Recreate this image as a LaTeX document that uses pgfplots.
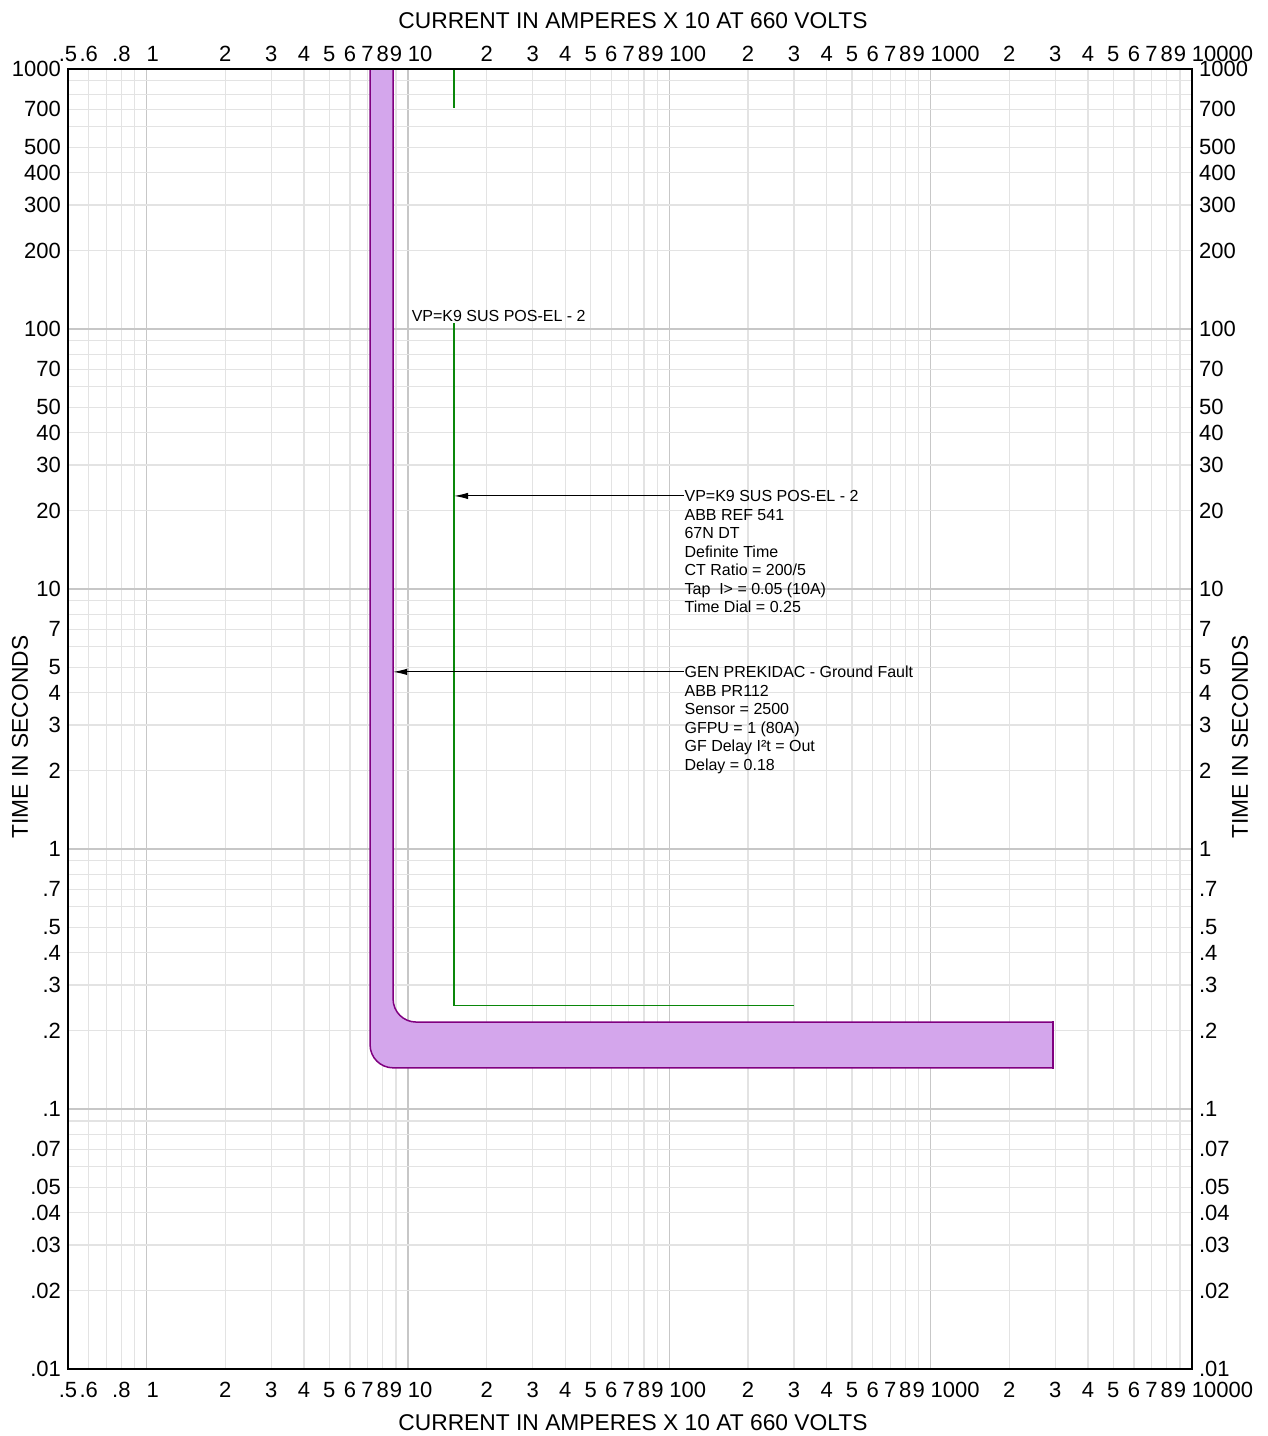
\documentclass[border=0pt]{standalone}
\usepackage{fontspec}
\setmainfont{Liberation Sans}
\usepackage{pgfplots}
\pgfplotsset{compat=1.18}
\usetikzlibrary{arrows.meta}
\definecolor{gfill}{RGB}{212,166,236}
\definecolor{gedge}{RGB}{128,0,128}
\definecolor{ggreen}{RGB}{10,135,10}
\newcommand\annot{\fontsize{8}{9.25}\selectfont}
\newcommand\tl{\fontsize{11}{13}\selectfont}
\newcommand\ttl{\fontsize{11.4}{13}\selectfont}
\begin{document}
\begin{tikzpicture}
% grid + data
\begin{axis}[xmode=log, ymode=log, xmin=0.5, xmax=10000, ymin=0.01, ymax=1000,
  scale only axis, width=562pt, height=650pt, at={(0,0)}, anchor=south west,
  axis line style={draw=none}, tick style={draw=none},
  xtick={1,10,100,1000,10000},
  minor xtick={0.6,0.7,0.8,0.9,2,3,4,5,6,7,8,9,20,30,40,50,60,70,80,90,200,300,400,500,600,700,800,900,2000,3000,4000,5000,6000,7000,8000,9000},
  ytick={0.01,0.1,1,10,100,1000},
  minor ytick={0.02,0.03,0.04,0.05,0.06,0.07,0.08,0.09,0.2,0.3,0.4,0.5,0.6,0.7,0.8,0.9,2,3,4,5,6,7,8,9,20,30,40,50,60,70,80,90,200,300,400,500,600,700,800,900},
  xticklabels={}, yticklabels={},
  grid=both,
  major grid style={draw=black!22, line width=0.6pt},
  minor grid style={draw=black!11, line width=0.6pt}]
% GEN PREKIDAC ground fault band
\addplot[fill=gfill, draw=gedge, line width=0.75pt, rounded corners=11.5pt]
  coordinates {(2940,0.216) (8.77,0.216) (8.77,3000) (7.16,3000) (7.16,0.144) (2940,0.144)};
\addplot[draw=gedge, line width=0.75pt, line cap=rect]
  coordinates {(2940,0.216) (2940,0.144)};
% VP=K9 SUS POS-EL - 2 definite time
\addplot[ggreen, line width=0.8pt] coordinates {(15,1000) (15,707)};
\addplot[ggreen, line width=0.8pt] coordinates {(15,105) (15,0.25) (300,0.25)};
% annotations
\draw[-{Latex[length=7pt,width=3.2pt]}, line width=0.5pt] (axis cs:114,22.8) -- (axis cs:15,22.8);
\draw[-{Latex[length=7pt,width=3.2pt]}, line width=0.5pt] (axis cs:114,4.8) -- (axis cs:8.77,4.8);
\node[anchor=base west, inner sep=0, font=\annot, yshift=-2.9pt] at (axis cs:114,22.8)
  {\begin{tabular}[t]{@{}l@{}}VP=K9 SUS POS-EL - 2\\ ABB REF 541\\ 67N DT\\ Definite Time\\ CT Ratio = 200/5\\ Tap~\ I> = 0.05 (10A)\\ Time Dial = 0.25\end{tabular}};
\node[anchor=base west, inner sep=0, font=\annot, yshift=-2.9pt] at (axis cs:114,4.8)
  {\begin{tabular}[t]{@{}l@{}}GEN PREKIDAC - Ground Fault\\ ABB PR112\\ Sensor = 2500\\ GFPU = 1 (80A)\\ GF Delay I²t = Out\\ Delay = 0.18\end{tabular}};
\node[anchor=west, inner sep=0, font=\annot] at (axis cs:10.3,112) {VP=K9 SUS POS-EL - 2};
\end{axis}
% bottom / left labels + frame
\begin{axis}[xmode=log, ymode=log, xmin=0.5, xmax=10000, ymin=0.01, ymax=1000,
  scale only axis, width=562pt, height=650pt, at={(0,0)}, anchor=south west,
  tick style={draw=none}, ticklabel style={font=\tl},
  xticklabel style={yshift=-3pt},
  axis line style={black, line width=0.75pt},
  xtick={0.5,0.6,0.8,1,2,3,4,5,6,7,8,9,10,20,30,40,50,60,70,80,90,100,200,300,400,500,600,700,800,900,1000,2000,3000,4000,5000,6000,7000,8000,9000,10000},
  xticklabels={.5,.6,.8,\rlap{1},2,3,4,5,6,7,8,9,\rlap{10},2,3,4,5,6,7,8,9,\rlap{100},2,3,4,5,6,7,8,9,\rlap{1000},2,3,4,5,6,7,8,9,\rlap{10000}},
  ytick={0.01,0.02,0.03,0.04,0.05,0.07,0.1,0.2,0.3,0.4,0.5,0.7,1,2,3,4,5,7,10,20,30,40,50,70,100,200,300,400,500,700,1000},
  yticklabels={.01,.02,.03,.04,.05,.07,.1,.2,.3,.4,.5,.7,1,2,3,4,5,7,10,20,30,40,50,70,100,200,300,400,500,700,1000}]
\end{axis}
% top / right labels + titles
\begin{axis}[xmode=log, ymode=log, xmin=0.5, xmax=10000, ymin=0.01, ymax=1000,
  scale only axis, width=562pt, height=650pt, at={(0,0)}, anchor=south west,
  clip=false,
  tick style={draw=none}, ticklabel style={font=\tl},
  axis line style={draw=none},
  xticklabel pos=upper, yticklabel pos=right,
  xtick={0.5,0.6,0.8,1,2,3,4,5,6,7,8,9,10,20,30,40,50,60,70,80,90,100,200,300,400,500,600,700,800,900,1000,2000,3000,4000,5000,6000,7000,8000,9000,10000},
  xticklabels={.5,.6,.8,\rlap{1},2,3,4,5,6,7,8,9,\rlap{10},2,3,4,5,6,7,8,9,\rlap{100},2,3,4,5,6,7,8,9,\rlap{1000},2,3,4,5,6,7,8,9,\rlap{10000}},
  ytick={0.01,0.02,0.03,0.04,0.05,0.07,0.1,0.2,0.3,0.4,0.5,0.7,1,2,3,4,5,7,10,20,30,40,50,70,100,200,300,400,500,700,1000},
  yticklabels={.01,.02,.03,.04,.05,.07,.1,.2,.3,.4,.5,.7,1,2,3,4,5,7,10,20,30,40,50,70,100,200,300,400,500,700,1000}]
\node[font=\ttl, xshift=1.5pt, yshift=24pt] at (rel axis cs:0.5,1) {CURRENT IN AMPERES X 10 AT 660 VOLTS};
\node[font=\ttl, xshift=1.5pt, yshift=-27pt] at (rel axis cs:0.5,0) {CURRENT IN AMPERES X 10 AT 660 VOLTS};
\node[font=\ttl, rotate=90, xshift=-9pt, yshift=24pt] at (rel axis cs:0,0.5) {TIME IN SECONDS};
\node[font=\ttl, rotate=90, xshift=-9pt, yshift=-24pt] at (rel axis cs:1,0.5) {TIME IN SECONDS};
\end{axis}
\pgfresetboundingbox
\path (-34pt,-33.5pt) rectangle (600pt,684.5pt);
\end{tikzpicture}
\end{document}
